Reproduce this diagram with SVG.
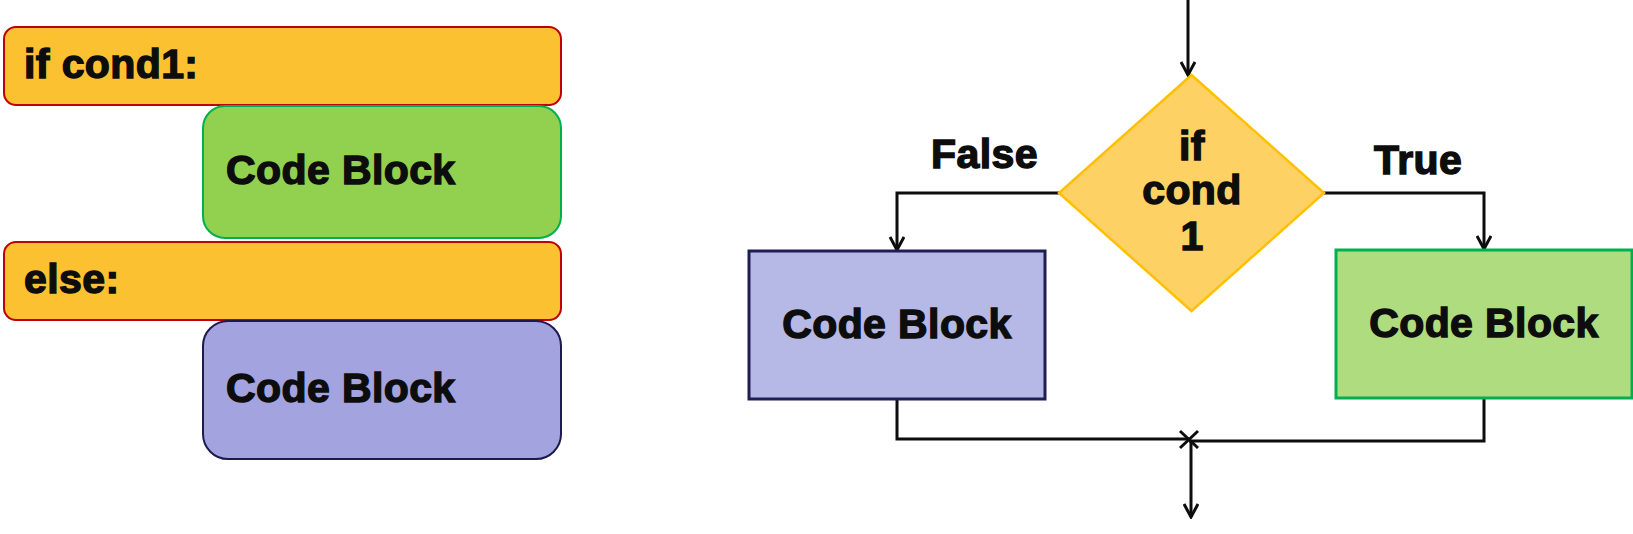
<svg xmlns="http://www.w3.org/2000/svg" width="1633" height="534" viewBox="0 0 1633 534">
<defs>
<style>
.t{font-family:"Liberation Sans",Arial,sans-serif;font-weight:bold;font-size:41px;fill:#0d0d0d;stroke:#0d0d0d;stroke-width:1.4px;letter-spacing:0.4px}
.c{text-anchor:middle}
.yl{fill:#FBC131;stroke:#C00000;stroke-width:2}
.ln{fill:none;stroke:#0d0d0d;stroke-width:3}
</style>
<marker id="arr" markerUnits="userSpaceOnUse" viewBox="0 0 16 16" refX="14" refY="8" markerWidth="16" markerHeight="16" orient="auto">
<path d="M1,1 L14,8 L1,15" fill="none" stroke="#0d0d0d" stroke-width="3"/>
</marker>
</defs>
<rect width="1633" height="534" fill="#ffffff"/>

<g id="if-cond1">
<rect class="yl" x="4" y="27" width="557" height="78" rx="12"/>
<text class="t" x="24" y="78">if cond1:</text>
</g>
<g id="code-block-true-left">
<rect x="203" y="106" width="358" height="132" rx="22" fill="#92D050" stroke="#00B050" stroke-width="2"/>
<text class="t" x="226" y="184">Code Block</text>
</g>
<g id="else">
<rect class="yl" x="4" y="242" width="557" height="78" rx="12"/>
<text class="t" x="24" y="293">else:</text>
</g>
<g id="code-block-false-left">
<rect x="203" y="321" width="358" height="138" rx="25" fill="#A3A3DF" stroke="#1C1A4F" stroke-width="2"/>
<text class="t" x="226" y="402">Code Block</text>
</g>

<g id="connectors">
<line class="ln" x1="1188" y1="0" x2="1188" y2="75" marker-end="url(#arr)"/>
<polyline class="ln" points="1059,193 897,193 897,250" marker-end="url(#arr)"/>
<polyline class="ln" points="1324,193 1484,193 1484,249" marker-end="url(#arr)"/>
<polyline class="ln" points="897,400 897,439 1189,439"/>
<polyline class="ln" points="1484,399 1484,441 1189,441"/>
<line class="ln" x1="1180" y1="431" x2="1198" y2="448"/>
<line class="ln" x1="1180" y1="448" x2="1198" y2="431"/>
<line class="ln" x1="1191" y1="441" x2="1191" y2="517" marker-end="url(#arr)"/>
<text class="t" x="931" y="168">False</text>
<text class="t" x="1374" y="174">True</text>
</g>

<g id="decision">
<polygon points="1191.5,75 1324,193 1191.5,311 1059,193" fill="#FDD163" stroke="#FFC000" stroke-width="2.5"/>
<text class="t c" x="1192" y="160">if</text>
<text class="t c" x="1192" y="204">cond</text>
<text class="t c" x="1192" y="250">1</text>
</g>

<g id="code-block-false-right">
<rect x="749" y="251" width="296" height="148" fill="#B6B8E6" stroke="#1E1E52" stroke-width="3"/>
<text class="t c" x="897" y="338">Code Block</text>
</g>
<g id="code-block-true-right">
<rect x="1336" y="250" width="296" height="148" fill="#AEDC7E" stroke="#00B050" stroke-width="3"/>
<text class="t c" x="1484" y="337">Code Block</text>
</g>
</svg>
